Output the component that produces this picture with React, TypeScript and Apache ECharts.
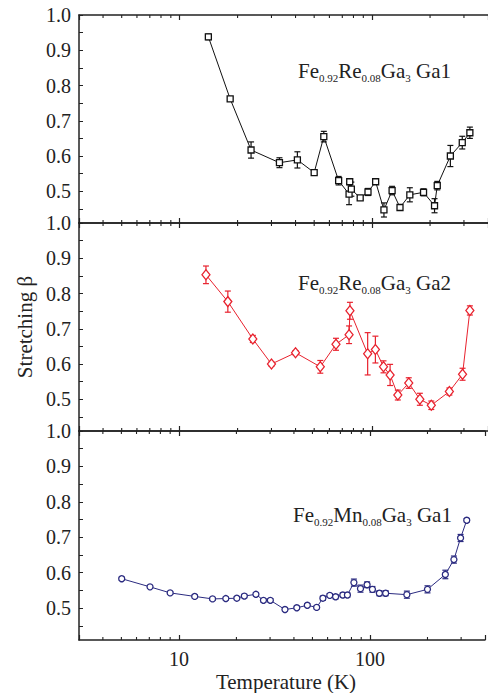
import { useEffect, useRef } from 'react';
import * as echarts from 'echarts';

// Axis ranges
const T_MIN = 3;
const T_MAX = 400;
const BETA_MIN = 0.41;
const BETA_MAX = 1.0;

// Fe0.92Re0.08Ga3, Ga1 site
const reGa1Temp = [14.1, 18.3, 23.5, 33.0, 40.9, 50.0, 56.1, 67.0, 75.9, 76.5, 78.0, 86.7, 95.2, 104.3, 115.2, 127, 139.6, 157, 185, 211, 218, 255, 294, 322];
const reGa1Beta = [0.938, 0.762, 0.617, 0.581, 0.589, 0.553, 0.655, 0.530, 0.492, 0.527, 0.506, 0.481, 0.498, 0.527, 0.447, 0.502, 0.454, 0.490, 0.497, 0.459, 0.516, 0.600, 0.638, 0.666];
const reGa1Err = [0.008, 0.006, 0.023, 0.014, 0.023, 0.005, 0.015, 0.012, 0.03, 0.008, 0.02, 0.005, 0.01, 0.007, 0.02, 0.012, 0.006, 0.02, 0.01, 0.02, 0.012, 0.03, 0.018, 0.016];

// Fe0.92Re0.08Ga3, Ga2 site
const reGa2Temp = [13.7, 17.8, 24.0, 30.0, 40.0, 53.8, 64.9, 75.9, 76.7, 94.8, 104, 114.6, 124, 136, 155, 177, 203, 252, 295, 322];
const reGa2Beta = [0.853, 0.777, 0.671, 0.600, 0.632, 0.592, 0.656, 0.683, 0.751, 0.629, 0.641, 0.592, 0.569, 0.512, 0.546, 0.500, 0.483, 0.522, 0.571, 0.752];
const reGa2Err = [0.025, 0.03, 0.01, 0.006, 0.006, 0.018, 0.017, 0.025, 0.024, 0.06, 0.038, 0.017, 0.03, 0.014, 0.015, 0.017, 0.012, 0.01, 0.017, 0.013];

// Fe0.92Mn0.08Ga3, Ga1 site
const mnGa1Temp = [5.02, 7.06, 9.0, 12.1, 15.0, 17.6, 20.1, 22.0, 25.3, 27.7, 30.1, 35.9, 41.4, 47.0, 52.6, 56.7, 61.6, 66.1, 72.1, 76.2, 82.4, 89.2, 96.6, 103, 112, 120.8, 156, 200, 248, 275, 298, 321];
const mnGa1Beta = [0.583, 0.560, 0.543, 0.533, 0.526, 0.527, 0.528, 0.534, 0.539, 0.522, 0.522, 0.496, 0.501, 0.508, 0.502, 0.528, 0.536, 0.532, 0.537, 0.537, 0.572, 0.555, 0.566, 0.553, 0.542, 0.542, 0.538, 0.553, 0.595, 0.637, 0.698, 0.748];
const mnGa1Err = [0.004, 0.004, 0.004, 0.004, 0.004, 0.004, 0.004, 0.005, 0.005, 0.005, 0.005, 0.004, 0.004, 0.004, 0.004, 0.006, 0.005, 0.006, 0.006, 0.006, 0.01, 0.01, 0.008, 0.008, 0.007, 0.007, 0.01, 0.01, 0.012, 0.01, 0.01, 0.005];

// Tick positions
const yLabelValues = [0.5, 0.6, 0.7, 0.8, 0.9, 1.0];
const yTickValues = [0.45, 0.5, 0.55, 0.6, 0.65, 0.7, 0.75, 0.8, 0.85, 0.9, 0.95, 1.0];
const xLabelValues = [10, 100];
const xMinorTicks = [4, 5, 6, 7, 8, 9, 20, 30, 40, 50, 60, 70, 80, 90, 200, 300];

const FONT = 'Liberation Serif';
const INK = '#222';

const panels = [
  { temp: reGa1Temp, beta: reGa1Beta, err: reGa1Err, color: '#111111', symbol: 'rect', symbolSize: 6,
    label: 'Fe{s|0.92}Re{s|0.08}Ga{s|3} Ga1', top: 15, height: 208, labelX: 298, labelY: 71 },
  { temp: reGa2Temp, beta: reGa2Beta, err: reGa2Err, color: '#e8222e', symbol: 'diamond', symbolSize: [8, 10],
    label: 'Fe{s|0.92}Re{s|0.08}Ga{s|3} Ga2', top: 223, height: 208, labelX: 298, labelY: 283 },
  { temp: mnGa1Temp, beta: mnGa1Beta, err: mnGa1Err, color: '#2b2b80', symbol: 'circle', symbolSize: 6,
    label: 'Fe{s|0.92}Mn{s|0.08}Ga{s|3} Ga1', top: 431, height: 209, labelX: 293, labelY: 515 },
];

function isLabelValue(v: number) {
  return xLabelValues.some((l) => Math.abs(v - l) < 1e-6 * l);
}

function buildOption() {
  const grid = panels.map((p) => ({ left: 79, width: 415, top: p.top, height: p.height }));

  const xAxis: any[] = [];
  panels.forEach((_, i) => {
    ['bottom', 'top'].forEach((pos) => {
      xAxis.push({
        type: 'log',
        logBase: 10,
        gridIndex: i,
        position: pos,
        min: T_MIN,
        max: T_MAX,
        axisLine: { show: true, lineStyle: { color: INK, width: 1.5 } },
        axisTick: { show: true, inside: true, length: 5, lineStyle: { color: INK, width: 1.2 } },
        axisLabel: {
          show: pos === 'bottom' && i === panels.length - 1,
          formatter: (v: number) => (isLabelValue(v) ? String(Math.round(v)) : ''),
          fontFamily: FONT,
          fontSize: 20,
          color: INK,
          margin: 9,
        },
        splitLine: { show: false },
      });
    });
  });

  const yAxis = panels.map((_, i) => ({
    type: 'value',
    gridIndex: i,
    min: BETA_MIN,
    max: BETA_MAX,
    axisLine: { show: true, lineStyle: { color: INK, width: 1.5 } },
    axisTick: { show: true, inside: true, length: 4, customValues: yTickValues, lineStyle: { color: INK, width: 1 } },
    axisLabel: {
      customValues: yLabelValues,
      formatter: (v: number) => v.toFixed(1),
      fontFamily: FONT,
      fontSize: 20,
      color: INK,
      margin: 8,
    },
    splitLine: { show: false },
  }));

  const series: any[] = [];
  panels.forEach((p, i) => {
    const pts = p.temp.map((t, k) => [t, p.beta[k], p.err[k]]);
    // error bars with caps
    series.push({
      type: 'custom',
      xAxisIndex: i * 2,
      yAxisIndex: i,
      z: 2,
      encode: { x: 0, y: 1 },
      data: pts,
      renderItem: (_params: any, api: any) => {
        const t = api.value(0);
        const b = api.value(1);
        const e = api.value(2);
        const lo = api.coord([t, b - e]);
        const hi = api.coord([t, b + e]);
        const style = { stroke: p.color, lineWidth: 1.2 };
        return {
          type: 'group',
          children: [
            { type: 'line', shape: { x1: lo[0], y1: lo[1], x2: hi[0], y2: hi[1] }, style },
            { type: 'line', shape: { x1: lo[0] - 3, y1: lo[1], x2: lo[0] + 3, y2: lo[1] }, style },
            { type: 'line', shape: { x1: hi[0] - 3, y1: hi[1], x2: hi[0] + 3, y2: hi[1] }, style },
          ],
        };
      },
    });
    // data line with open markers
    series.push({
      type: 'line',
      xAxisIndex: i * 2,
      yAxisIndex: i,
      z: 3,
      data: pts.map((d) => [d[0], d[1]]),
      symbol: p.symbol,
      symbolSize: p.symbolSize,
      showSymbol: true,
      lineStyle: { color: p.color, width: 1 },
      itemStyle: { color: '#fff', borderColor: p.color, borderWidth: 1.3 },
    });
    // logarithmic minor ticks on the top and bottom frame of each panel
    series.push({
      type: 'custom',
      xAxisIndex: i * 2,
      yAxisIndex: i,
      z: 4,
      silent: true,
      encode: { x: 0, y: 1 },
      data: xMinorTicks.map((v) => [v, BETA_MIN]),
      renderItem: (_params: any, api: any) => {
        const v = api.value(0);
        const b = api.coord([v, BETA_MIN]);
        const t = api.coord([v, BETA_MAX]);
        const style = { stroke: INK, lineWidth: 1.1 };
        return {
          type: 'group',
          children: [
            { type: 'line', shape: { x1: b[0], y1: b[1], x2: b[0], y2: b[1] - 3 }, style },
            { type: 'line', shape: { x1: t[0], y1: t[1], x2: t[0], y2: t[1] + 3 }, style },
          ],
        };
      },
    });
  });

  const graphic: any[] = panels.map((p) => ({
    type: 'text',
    x: p.labelX,
    y: p.labelY,
    z: 10,
    style: {
      text: p.label,
      fill: INK,
      fontFamily: FONT,
      fontSize: 21,
      lineHeight: 24,
      align: 'left',
      verticalAlign: 'middle',
      rich: {
        s: { fontFamily: FONT, fontSize: 11, lineHeight: 11, verticalAlign: 'bottom', fill: INK },
      },
    },
  }));

  graphic.push({
    type: 'text',
    x: 25,
    y: 327,
    rotation: Math.PI / 2,
    style: {
      text: 'Stretching β',
      fill: INK,
      fontFamily: FONT,
      fontSize: 21,
      align: 'center',
      verticalAlign: 'middle',
    },
  });
  graphic.push({
    type: 'text',
    x: 286,
    y: 682,
    style: {
      text: 'Temperature (K)',
      fill: INK,
      fontFamily: FONT,
      fontSize: 21,
      align: 'center',
      verticalAlign: 'middle',
    },
  });

  return {
    animation: false,
    backgroundColor: '#fff',
    textStyle: { fontFamily: FONT },
    grid,
    xAxis,
    yAxis,
    series,
    graphic,
  };
}

export default function App() {
  const ref = useRef<HTMLDivElement>(null);
  useEffect(() => {
    if (!ref.current) return;
    const chart = echarts.init(ref.current, undefined, { renderer: 'svg' });
    chart.setOption(buildOption() as any);
    return () => chart.dispose();
  }, []);
  return (
    <div
      ref={ref}
      style={{ position: 'fixed', left: 0, top: 0, width: 488, height: 693, background: '#fff' }}
    />
  );
}
